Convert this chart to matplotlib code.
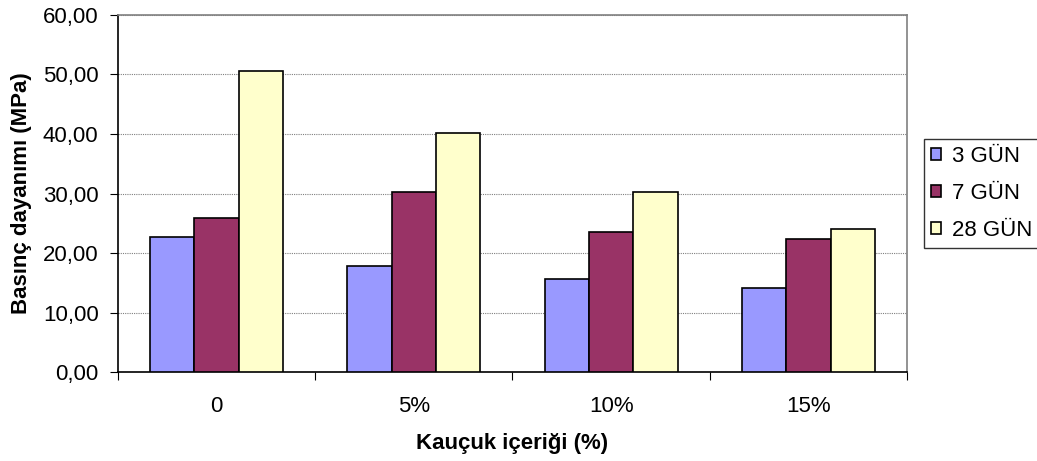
import matplotlib
matplotlib.use("Agg")
import matplotlib.pyplot as plt
import numpy as np
from matplotlib.ticker import FuncFormatter, FixedLocator

plt.rcParams['font.family'] = ['Liberation Sans', 'DejaVu Sans']

categories = ["0", "5%", "10%", "15%"]
series_names = ["3 GÜN", "7 GÜN", "28 GÜN"]
gun3 = [22.66, 17.89, 15.59, 14.08]
gun7 = [25.85, 30.23, 23.50, 22.32]
gun28 = [50.53, 40.21, 30.23, 24.06]
colors = ["#9999FF", "#993366", "#FFFFCC"]

FS = 16

fig = plt.figure(figsize=(10.37, 4.61), dpi=100)
ax = fig.add_axes([0.1138, 0.193, 0.7608, 0.7745])

x = np.arange(len(categories))
bw = 0.225
for i, (vals, name, col) in enumerate(zip([gun3, gun7, gun28], series_names, colors)):
    ax.bar(x + (i - 1) * bw, vals, width=bw, color=col, edgecolor="black",
           linewidth=1.2, label=name, zorder=3)

ax.set_xlim(-0.5, len(categories) - 0.5)
ax.set_ylim(0, 60)
ax.set_yticks(np.arange(0, 61, 10))
ax.yaxis.set_major_formatter(FuncFormatter(lambda v, p: f"{v:.2f}".replace(".", ",")))
ax.grid(axis="y", color="#808080", linestyle=(0, (1, 1)), linewidth=0.8, zorder=0)

# category boundaries carry the tick marks, labels sit centred below each group
ax.xaxis.set_major_locator(FixedLocator(np.arange(-0.5, len(categories), 1.0)))
ax.xaxis.set_major_formatter(FuncFormatter(lambda v, p: ""))
ax.xaxis.set_minor_locator(FixedLocator(x))
ax.set_xticks(x, categories, minor=True)
ax.tick_params(axis="x", which="major", length=6, direction="out", color="black")
ax.tick_params(axis="x", which="minor", length=0, pad=17, labelsize=FS)
ax.tick_params(axis="y", length=6, direction="out", labelsize=FS, pad=8)

for s in ("top", "right"):
    ax.spines[s].set_color("#808080")
    ax.spines[s].set_linewidth(1.2)
for s in ("left", "bottom"):
    ax.spines[s].set_color("black")
    ax.spines[s].set_linewidth(1.2)

ax.set_xlabel("Kauçuk içeriği (%)", fontsize=FS, fontweight="bold", labelpad=12)
ax.set_ylabel("Basınç dayanımı (MPa)", fontsize=FS, fontweight="bold", labelpad=8)

leg = fig.legend(loc="center left", bbox_to_anchor=(0.891, 0.58), fontsize=FS,
                 frameon=True, fancybox=False, edgecolor="black", handlelength=0.45,
                 handleheight=0.45, handletextpad=0.5, borderpad=0.3, labelspacing=0.72,
                 borderaxespad=0)
leg.get_frame().set_linewidth(1.0)

fig.savefig("out.png", dpi=100)
